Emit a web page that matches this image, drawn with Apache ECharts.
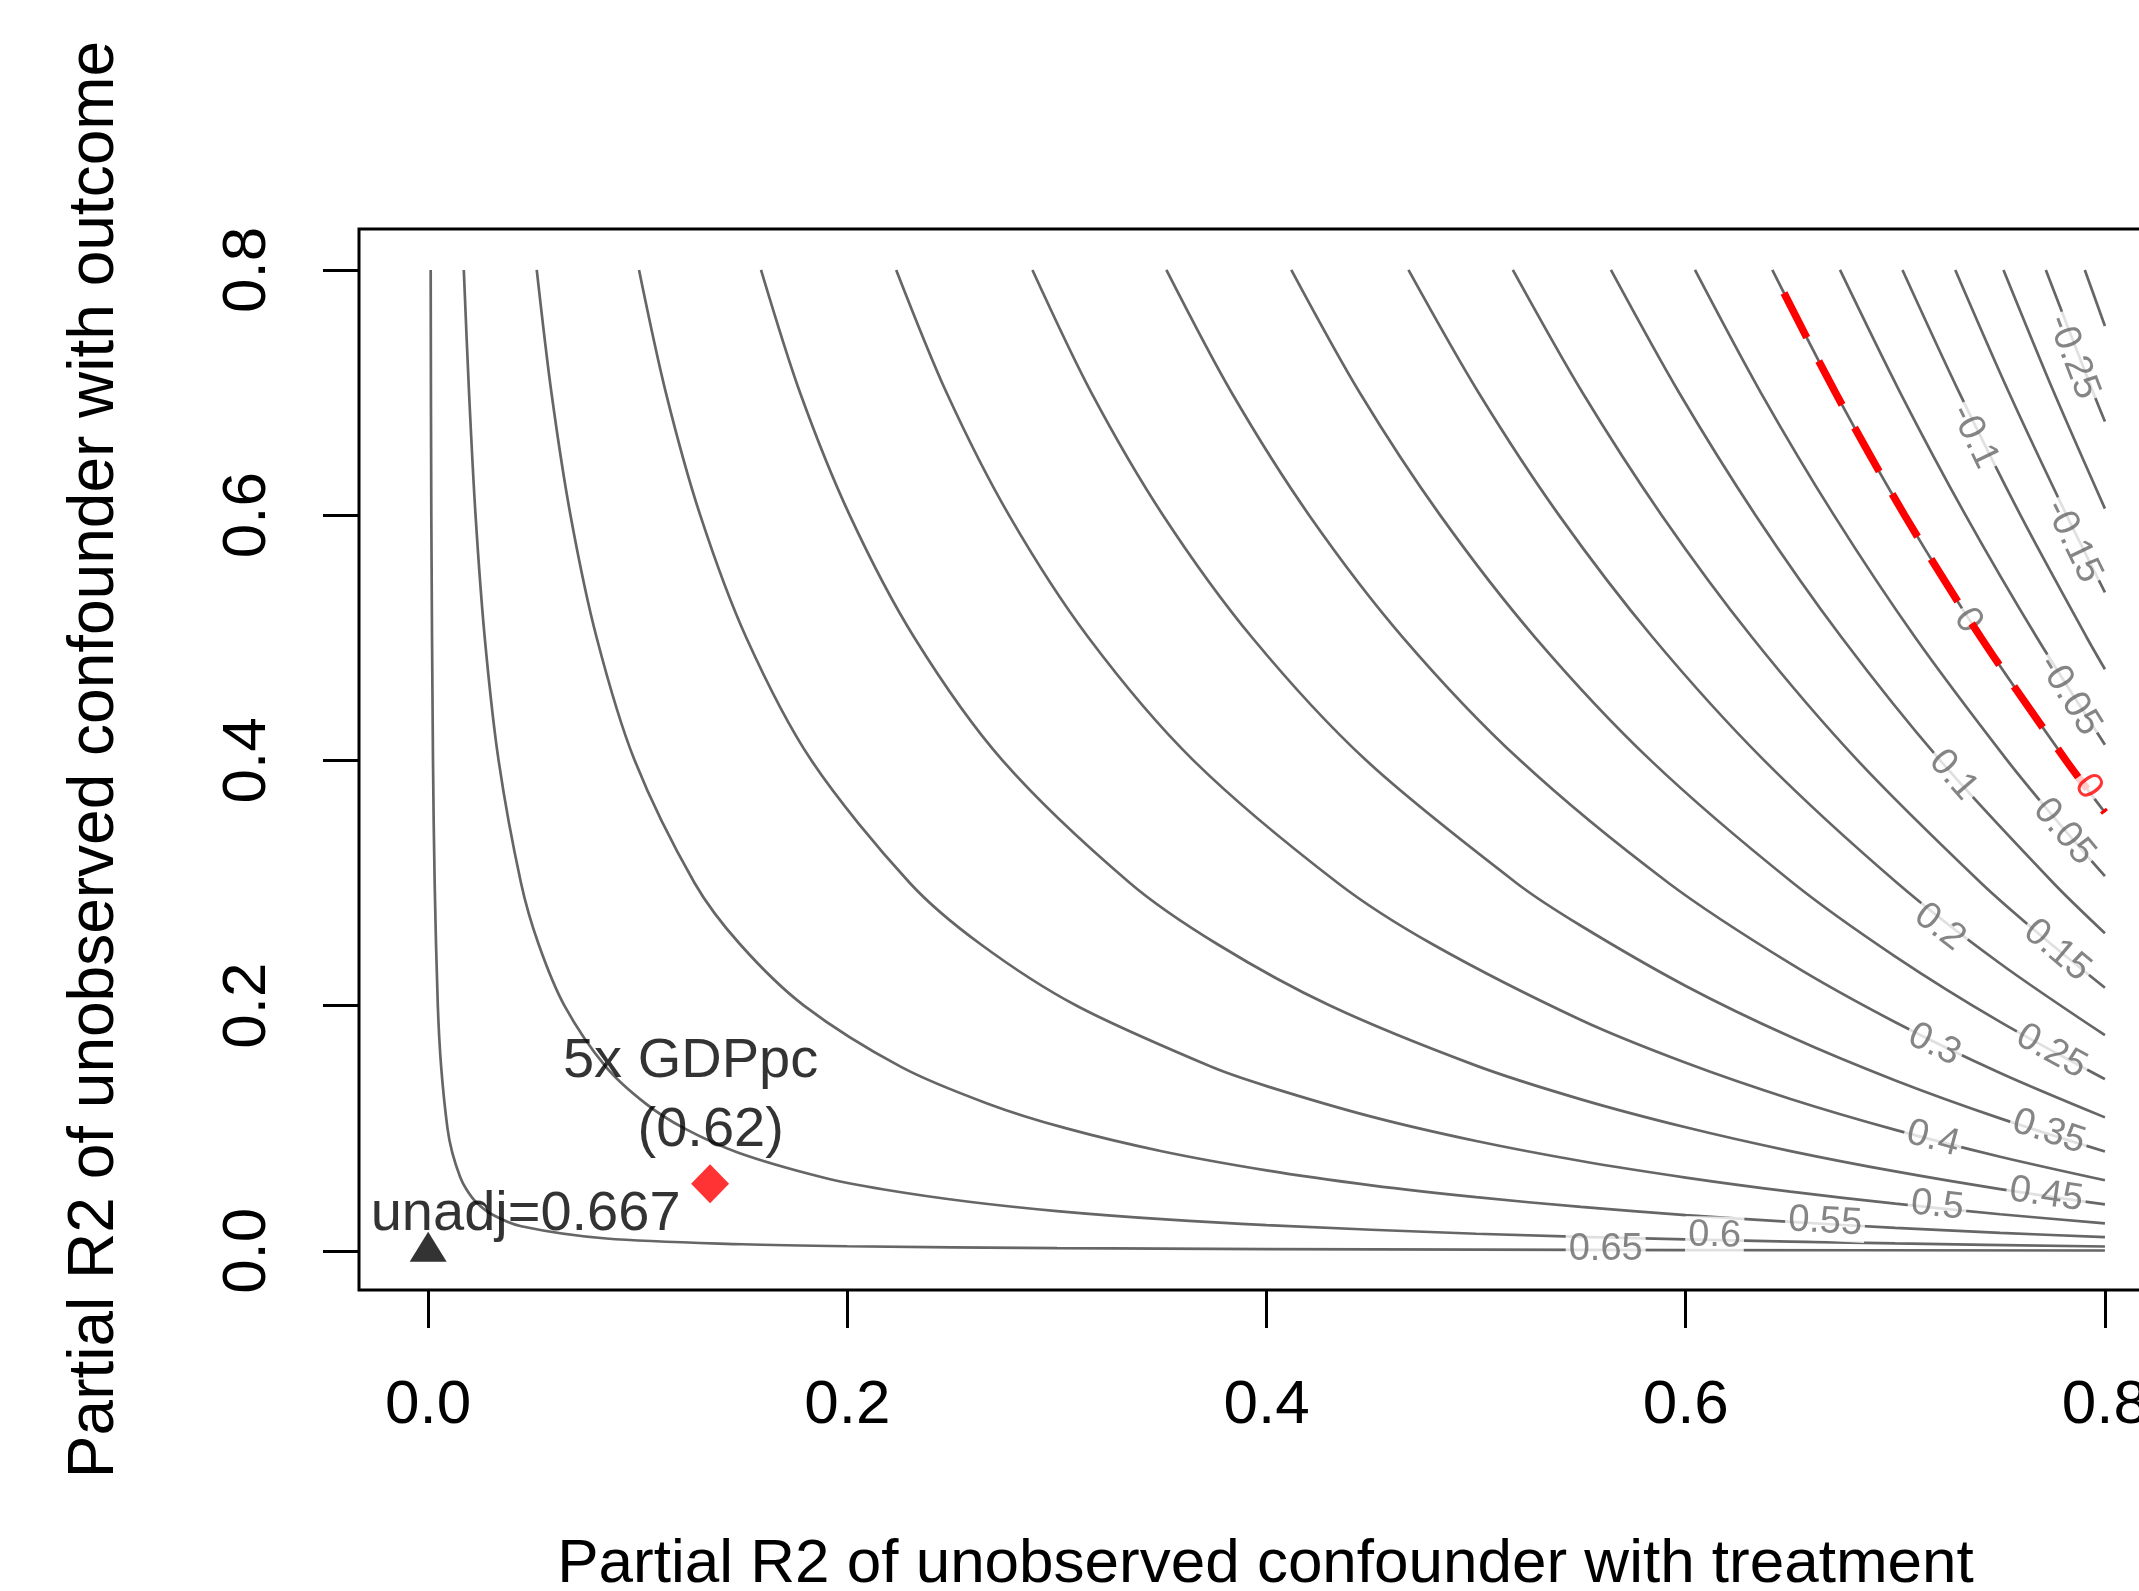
<!DOCTYPE html>
<html><head><meta charset="utf-8">
<script src="https://cdn.jsdelivr.net/npm/echarts@6/dist/echarts.min.js"></script>
<style>html,body{margin:0;padding:0;background:#fff}#c{width:2139px;height:1591px}</style>
</head><body><div id="c"></div>
<script>
// ---- data ----
const xTicks = [0, 0.2, 0.4, 0.6, 0.8];
const yTicks = [0, 0.2, 0.4, 0.6, 0.8];
const contourLevels = ['0.65','0.6','0.55','0.5','0.45','0.4','0.35','0.3','0.25','0.2','0.15','0.1','0.05','0','-0.05','-0.1','-0.15','-0.2','-0.25','-0.3'];
const lvl_065 = [[0.0012,0.8],[0.0015,0.6],[0.0023,0.4],[0.0031,0.3],[0.0046,0.2],[0.0062,0.15],[0.0092,0.1],[0.0115,0.08],[0.0153,0.06],[0.0183,0.05],[0.0227,0.04],[0.0301,0.03],[0.0444,0.02],[0.085,0.01],[0.15,0.0053],[0.2,0.0037],[0.3,0.0022],[0.4,0.0014],[0.5,0.0009],[0.6,0.0006],[0.8,0.0002]];
const lvl_060 = [[0.017,0.8],[0.0195,0.7],[0.0226,0.6],[0.027,0.5],[0.0336,0.4],[0.0443,0.3],[0.0527,0.25],[0.065,0.2],[0.0848,0.15],[0.1038,0.12],[0.122,0.1],[0.148,0.08],[0.188,0.06],[0.2175,0.05],[0.258,0.04],[0.3,0.0324],[0.35,0.0258],[0.4,0.0209],[0.5,0.0139],[0.6,0.0093],[0.7,0.006],[0.8,0.0035]];
const lvl_055 = [[0.0518,0.8],[0.0588,0.7],[0.0679,0.6],[0.0804,0.5],[0.0985,0.4],[0.1271,0.3],[0.1488,0.25],[0.1793,0.2],[0.2256,0.15],[0.267,0.12],[0.3041,0.1],[0.35,0.0812],[0.4,0.0656],[0.45,0.0534],[0.5,0.0437],[0.55,0.0358],[0.6,0.0291],[0.65,0.0235],[0.7,0.0187],[0.75,0.0146],[0.8,0.0112]];
const lvl_050 = [[0.1006,0.8],[0.1134,0.7],[0.1298,0.6],[0.1518,0.5],[0.1828,0.4],[0.2298,0.3],[0.2636,0.25],[0.3092,0.2],[0.3737,0.15],[0.4,0.1343],[0.45,0.1094],[0.5,0.0895],[0.55,0.0732],[0.6,0.0597],[0.65,0.0482],[0.7,0.0384],[0.75,0.0298],[0.8,0.0224]];
const lvl_045 = [[0.1588,0.8],[0.1774,0.7],[0.2011,0.6],[0.232,0.5],[0.274,0.4],[0.3348,0.3],[0.3766,0.25],[0.4302,0.2],[0.5,0.151],[0.55,0.1235],[0.6,0.1007],[0.65,0.0813],[0.7,0.0647],[0.75,0.0503],[0.8,0.0378]];
const lvl_040 = [[0.2233,0.8],[0.2473,0.7],[0.2771,0.6],[0.3151,0.5],[0.3651,0.4],[0.434,0.3],[0.4792,0.25],[0.55,0.1882],[0.6,0.1533],[0.65,0.1238],[0.7,0.0986],[0.75,0.0767],[0.8,0.0575]];
const lvl_035 = [[0.2883,0.8],[0.3164,0.7],[0.3506,0.6],[0.3932,0.5],[0.4475,0.4],[0.5192,0.3],[0.55,0.2651],[0.6,0.216],[0.65,0.1745],[0.7,0.1389],[0.75,0.108],[0.8,0.081]];
const lvl_030 = [[0.3522,0.8],[0.3833,0.7],[0.4203,0.6],[0.4652,0.5],[0.521,0.4],[0.5918,0.3],[0.65,0.2342],[0.7,0.1864],[0.75,0.145],[0.8,0.1088]];
const lvl_025 = [[0.4118,0.8],[0.4444,0.7],[0.4828,0.6],[0.5283,0.5],[0.5833,0.4],[0.6512,0.3],[0.7,0.24],[0.75,0.1867],[0.8,0.14]];
const lvl_020 = [[0.4677,0.8],[0.5011,0.7],[0.5395,0.6],[0.5844,0.5],[0.6374,0.4],[0.7009,0.3],[0.75,0.2343],[0.8,0.1758]];
const lvl_015 = [[0.5175,0.8],[0.5507,0.7],[0.5885,0.6],[0.6318,0.5],[0.682,0.4],[0.7409,0.3],[0.77,0.2563],[0.8,0.2145]];
const lvl_010 = [[0.5643,0.8],[0.5968,0.7],[0.6333,0.6],[0.6745,0.5],[0.7214,0.4],[0.7754,0.3],[0.8,0.259]];
const lvl_005 = [[0.6044,0.8],[0.6358,0.7],[0.6707,0.6],[0.7096,0.5],[0.7534,0.4],[0.7774,0.35],[0.8,0.3055]];
const lvl_000 = [[0.6413,0.8],[0.6714,0.7],[0.7044,0.6],[0.7409,0.5],[0.7814,0.4],[0.8,0.3575]];
const lvl_m005 = [[0.6736,0.8],[0.7023,0.7],[0.7335,0.6],[0.7676,0.5],[0.8,0.4128]];
const lvl_m010 = [[0.7034,0.8],[0.7305,0.7],[0.7597,0.6],[0.7914,0.5],[0.8,0.4743]];
const lvl_m015 = [[0.7286,0.8],[0.7542,0.7],[0.7817,0.6],[0.8,0.537]];
const lvl_m020 = [[0.7516,0.8],[0.7757,0.7],[0.8,0.6053]];
const lvl_m025 = [[0.7718,0.8],[0.7944,0.7],[0.8,0.6763]];
const lvl_m030 = [[0.7904,0.8],[0.8,0.7543]];
const contourLines = [lvl_065,lvl_060,lvl_055,lvl_050,lvl_045,lvl_040,lvl_035,lvl_030,lvl_025,lvl_020,lvl_015,lvl_010,lvl_005,lvl_000,lvl_m005,lvl_m010,lvl_m015,lvl_m020,lvl_m025,lvl_m030];
const thresholdLine = lvl_000;

// contour label placement (data coords) and angle along the line
const labelText  = ['-0.25','-0.1','-0.15','-0.05','0','0.1','0.05','0.2','0.15','0.3','0.25','0.4','0.35','0.5','0.45','0.55','0.6','0.65'];
const labelAt    = [[0.7848,0.729],[0.7376,0.664],[0.7848,0.5786],[0.783,0.453],[0.7347,0.514],[0.7276,0.388],[0.7805,0.3417],[0.7212,0.2638],[0.7772,0.2449],[0.7186,0.168],[0.7745,0.1625],[0.718,0.0913],[0.7733,0.097],[0.720,0.0369],[0.772,0.0457],[0.6665,0.0236],[0.6138,0.0124],[0.5618,0.0013]];
const labelAngle = [-69,-64,-64,-58,-57,-49,-50,-38,-40,-26,-29,-15,-18,-6,-8,-3,-1,0];
const thresholdLabel = {text:'0', at:[0.792,0.3784], angle:-55};

const unadjPoint = [0, 0];
const unadjText = 'unadj=0.667';
const unadjTextAt = [0.0465, 0.0294];
const benchPoint = [0.1345, 0.0546];
const benchText1 = '5x GDPpc';
const benchText1At = [0.1252, 0.1541];
const benchText2 = '(0.62)';
const benchText2At = [0.1348, 0.0979];

const xTitle = 'Partial R2 of unobserved confounder with treatment';
const yTitle = 'Partial R2 of unobserved confounder with outcome';

// ---- chart ----
const FF = 'Liberation Sans, Arial, sans-serif';
const chart = echarts.init(document.getElementById('c'), null, {renderer:'canvas'});
const series = [];
contourLines.forEach((pts, i) => {
  series.push({type:'line', name:contourLevels[i], data:pts, showSymbol:false, smooth:0.3,
    lineStyle:{color:'#666666', width:2.7}, z:2, silent:true, animation:false});
});
series.push({type:'scatter', data: labelAt.map((p,i)=>({value:p, label:{formatter:labelText[i], rotate:labelAngle[i]}})),
  symbolSize:1, itemStyle:{color:'rgba(0,0,0,0)'}, z:3, silent:true, animation:false,
  label:{show:true, position:'inside', fontSize:38, fontFamily:FF, color:'#666666', backgroundColor:'#ffffff', padding:[0,3]}});
series.push({type:'line', data:thresholdLine, showSymbol:false, smooth:0.3,
  lineStyle:{color:'#ff0000', width:7.5, type:[50,26], dashOffset:50}, z:5, silent:true, animation:false});
series.push({type:'scatter', data:[{value:thresholdLabel.at, label:{formatter:thresholdLabel.text, rotate:thresholdLabel.angle}}],
  symbolSize:1, itemStyle:{color:'rgba(0,0,0,0)'}, z:6, silent:true, animation:false,
  label:{show:true, position:'inside', fontSize:38, fontFamily:FF, color:'#ff0000', backgroundColor:'#ffffff', padding:[0,3]}});
series.push({type:'scatter', data:[unadjPoint], symbol:'triangle', symbolSize:[37,30], symbolOffset:[0,-4], itemStyle:{color:'#000'}, z:7, silent:true, animation:false});
series.push({type:'scatter', data:[benchPoint], symbol:'diamond', symbolSize:[38,39], itemStyle:{color:'#ff0000'}, z:7, silent:true, animation:false});
series.push({type:'scatter', data:[
    {value:unadjTextAt, label:{formatter:unadjText}},
    {value:benchText1At, label:{formatter:benchText1}},
    {value:benchText2At, label:{formatter:benchText2}}],
  symbolSize:1, itemStyle:{color:'rgba(0,0,0,0)'}, z:8, silent:true, animation:false,
  label:{show:true, position:'inside', fontSize:56, fontFamily:FF, color:'#000'}});

chart.setOption({
  animation:false,
  backgroundColor:'#ffffff',
  grid:{left:359, top:229, width:1813, height:1061, show:true, borderColor:'#000', borderWidth:3,
        backgroundColor:'transparent', outerBoundsMode:'none', containLabel:false},
  xAxis:{type:'value', min:-0.033, max:0.832,
    axisLine:{show:false, onZero:false}, splitLine:{show:false},
    axisTick:{show:true, inside:false, length:38, customValues:xTicks, lineStyle:{color:'#000', width:3}},
    axisLabel:{show:true, customValues:xTicks, formatter:v=>v.toFixed(1), fontSize:62, fontFamily:FF, color:'#000', margin:85},
    name:xTitle, nameLocation:'middle', nameGap:244, nameTextStyle:{fontSize:62, fontFamily:FF, color:'#000'}},
  yAxis:{type:'value', min:-0.032, max:0.8334,
    axisLine:{show:false, onZero:false}, splitLine:{show:false},
    axisTick:{show:true, inside:false, length:36, customValues:yTicks, lineStyle:{color:'#000', width:3}},
    axisLabel:{show:true, customValues:yTicks, formatter:v=>v.toFixed(1), rotate:90, fontSize:62, fontFamily:FF, color:'#000', margin:80},
    name:yTitle, nameLocation:'middle', nameGap:232, nameRotate:90, nameTextStyle:{fontSize:64, fontFamily:FF, color:'#000'}},
  series: series
});
</script></body></html>
